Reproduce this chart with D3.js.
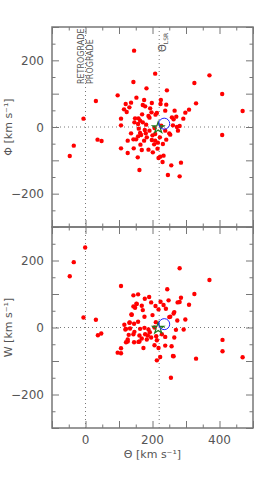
<!DOCTYPE html>
<html>
<head>
<meta charset="utf-8">
<script src="https://cdn.jsdelivr.net/npm/d3@7"></script>
<style>
  body { margin: 0; background: #fff; }
  text { font-family: "DejaVu Sans", sans-serif; fill: #555; }
</style>
</head>
<body>
<div id="chart-area"></div>
<script>
// Θ-Φ panel (top)
var thetaTop = [145,208,143,182,243,96,31,152,175,120,136,198,171,178,224,241,131,115,123,193,238,266,169,188,213,258,106,148,158,191,146,157,171,106,159,177,191,136,166,183,200,157,151,143,126,175,208,222,241,36,48,164,205,231,106,144,168,215,126,233,223,156,218,230,256,161,246,
  370,325,408,330,309,298,469,271,292,263,261,281,273,276,253,408,285,281,-6,-35,-47,
  226,206,238,225,209,197,163,181,163,180,208,198,216,250,201,188];
var phiTop = [229,160,135,116,110,95,78,88,81,69,73,72,66,62,69,67,59,53,45,56,49,49,38,33,42,29,25,26,26,28,14,9,14,5,-5,-9,-11,-19,-24,-31,-25,-28,-37,-37,-41,-41,-41,-31,-38,-38,-42,-53,-52,-51,-64,-64,-69,-65,-78,-86,-89,-91,-93,-105,-115,-129,-144,
  155,132,99,71,52,43,48,31,25,23,5,3,0,-11,-23,-24,-107,-148,25,-56,-87,
  4,-3,-11,81,37,44,19,7,-18,-19,-21,-39,-47,-19,-76,-68];

// Θ-W panel (bottom)
var thetaBot = [-1,-35,-47,-6,31,37,47,106,96,106,106,121,126,116,121,129,132,138,143,157,143,148,152,145,143,157,161,177,190,196,244,224,248,153,168,171,233,240,209,218,137,200,250,176,131,210,119,133,146,163,176,188,192,206,178,186,161,168,183,196,211,213,228,238,126,145,158,206,238,173,218,261,223,213,255,
  281,370,325,285,275,281,309,265,263,298,274,253,270,293,265,409,257,409,263,330,469];
var wBot = [239,195,153,30,23,-23,-18,124,-75,-77,-62,-44,-42,8,-4,-22,15,38,96,99,63,59,71,11,-20,17,-42,86,91,75,114,77,81,70,65,52,67,56,64,54,39,37,31,32,14,16,-6,-3,-13,-4,-1,-6,-14,0,-20,-24,-24,-33,-36,-30,-26,-38,-20,-28,-36,-44,-43,-53,-54,-61,-61,-85,-88,-98,-150,
  177,142,100,89,75,76,68,46,42,24,21,32,-7,-6,-30,-37,-56,-71,-86,-93,-89];

// reference markers: LSR (star) and Sun (circle)
var lsr = {theta: 217, v: -2};
var sun = {theta: 235, v: 10};

var xTickLabels = [0, 200, 400];
var yTickLabels = [-200, 0, 200];

var width = 277, height = 479;
var svg = d3.select("#chart-area").append("svg")
  .attr("width", width)
  .attr("height", height);

var x = d3.scaleLinear().domain([-100, 500]).range([52, 253]);
var panels = [
  {theta: thetaTop, v: phiTop, y: d3.scaleLinear().domain([-300, 300]).range([227, 27]), label: "Φ [km s⁻¹]"},
  {theta: thetaBot, v: wBot, y: d3.scaleLinear().domain([-300, 300]).range([428, 227]), label: "W [km s⁻¹]"}
];

var xMajor = d3.range(-100, 501, 100), xMinor = d3.range(-50, 500, 100);
var yMajor = d3.range(-300, 301, 100), yMinor = d3.range(-250, 300, 100);

panels.forEach(function(p, i) {
  var y = p.y;
  var g = svg.append("g");
  var y0 = y.range()[1], y1 = y.range()[0];

  // dotted reference lines
  g.append("line").attr("x1", x(-100)).attr("x2", x(500)).attr("y1", y(0)).attr("y2", y(0))
    .attr("stroke", "#777").attr("stroke-dasharray", "1,3");
  [0, 220].forEach(function(v) {
    g.append("line").attr("x1", x(v)).attr("x2", x(v)).attr("y1", y0).attr("y2", y1)
      .attr("stroke", "#777").attr("stroke-dasharray", "1,3");
  });

  // ticks on four sides, pointing in
  function ticks(axisFn, scale, vals, size, tr) {
    g.append("g").attr("transform", tr)
      .call(axisFn(scale).tickValues(vals).tickSize(-size).tickFormat(""))
      .call(function(a) { a.select(".domain").remove(); a.selectAll("line").attr("stroke", "#777"); });
  }
  ticks(d3.axisBottom, x, xMajor, 7, "translate(0," + y1 + ")");
  ticks(d3.axisBottom, x, xMinor, 3.5, "translate(0," + y1 + ")");
  ticks(d3.axisTop, x, xMajor, 7, "translate(0," + y0 + ")");
  ticks(d3.axisTop, x, xMinor, 3.5, "translate(0," + y0 + ")");
  ticks(d3.axisLeft, y, yMajor, 7, "translate(" + x(-100) + ",0)");
  ticks(d3.axisLeft, y, yMinor, 3.5, "translate(" + x(-100) + ",0)");
  ticks(d3.axisRight, y, yMajor, 7, "translate(" + x(500) + ",0)");
  ticks(d3.axisRight, y, yMinor, 3.5, "translate(" + x(500) + ",0)");

  g.append("rect").attr("x", x(-100)).attr("y", y0)
    .attr("width", x(500) - x(-100)).attr("height", y1 - y0)
    .attr("fill", "none").attr("stroke", "#777").attr("stroke-width", 1.5);

  // y tick labels
  g.selectAll(".ylab").data(yTickLabels).enter().append("text")
    .attr("x", 44).attr("y", function(d) { return y(d) + 4.5; })
    .attr("text-anchor", "end").attr("font-size", "12px")
    .text(function(d) { return d < 0 ? "−" + (-d) : d; });

  g.append("text")
    .attr("transform", "translate(12," + y(0) + ") rotate(-90)")
    .attr("text-anchor", "middle").attr("font-size", "11px")
    .text(p.label);

  // stars
  g.selectAll("circle.pt").data(p.theta).enter().append("circle")
    .attr("class", "pt")
    .attr("cx", function(d) { return x(d); })
    .attr("cy", function(d, j) { return y(p.v[j]); })
    .attr("r", 2.2)
    .attr("fill", "#ff0000");

  g.append("path")
    .attr("d", d3.symbol().type(d3.symbolStar).size(40)())
    .attr("transform", "translate(" + x(lsr.theta) + "," + y(lsr.v) + ")")
    .attr("fill", "none").attr("stroke", "#1f7a1f").attr("stroke-width", 1.2);
  g.append("circle")
    .attr("cx", x(sun.theta)).attr("cy", y(sun.v)).attr("r", 5.5)
    .attr("fill", "none").attr("stroke", "#2020ff").attr("stroke-width", 1);

  if (i === 0) {
    g.append("text").attr("transform", "translate(" + (x(0) - 2) + ",84) rotate(-90)")
      .attr("font-size", "8px").text("RETROGRADE");
    g.append("text").attr("transform", "translate(" + (x(0) + 7) + ",84) rotate(-90)")
      .attr("font-size", "8px").text("PROGRADE");
    var t = g.append("text").attr("transform", "translate(" + (x(220) + 7) + ",52) rotate(-90)")
      .attr("font-size", "10px");
    t.append("tspan").text("Θ");
    t.append("tspan").attr("font-size", "6px").attr("dy", 2).text("LSR");
  }
});

// x tick labels and title
var yb = panels[1].y.range()[0];
svg.selectAll(".xlab").data(xTickLabels).enter().append("text")
  .attr("x", function(d) { return x(d); }).attr("y", yb + 16)
  .attr("text-anchor", "middle").attr("font-size", "12px")
  .text(function(d) { return d; });
svg.append("text").attr("x", x(200)).attr("y", yb + 30)
  .attr("text-anchor", "middle").attr("font-size", "11px")
  .text("Θ [km s⁻¹]");
</script>
</body>
</html>
